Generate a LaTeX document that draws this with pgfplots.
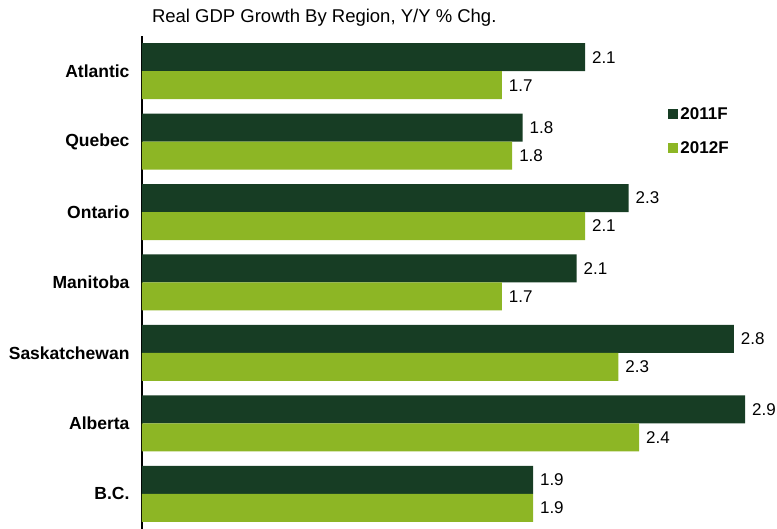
\documentclass[border=0pt]{standalone}
\usepackage{fontspec}
\setmainfont{Liberation Sans}
\usepackage{pgfplots}
\pgfplotsset{compat=1.18}
\definecolor{dkg}{HTML}{173D24}
\definecolor{ltg}{HTML}{8DB625}
\begin{document}
\begin{tikzpicture}
\path[use as bounding box] (-142pt,0pt) rectangle (635pt,529pt);
\begin{axis}[
  at={(0pt,0pt)}, anchor=south west,
  scale only axis, width=635pt, height=493pt,
  xmin=0, xmax=3.053, ymin=-0.5, ymax=6.5,
  axis x line=none, axis y line*=left,
  y axis line style={line width=1.3pt, -},
  ytick={0,1,2,3,4,5,6},
  yticklabels={B.C., Alberta, Saskatchewan, Manitoba, Ontario, Quebec, Atlantic},
  major tick length=0pt,
  yticklabel style={font=\fontsize{17.5}{19}\selectfont\bfseries, xshift=-9pt},
  xbar, bar width=28pt,
  point meta=explicit symbolic,
  nodes near coords,
  nodes near coords style={font=\fontsize{17}{19}\selectfont, anchor=west, xshift=3.5pt},
  legend image code/.code={\fill[#1,draw=none] (0pt,-5pt) rectangle (10pt,5pt);},
  legend style={draw=none, fill=none, at={(0.824,0.807)}, anchor=west,
    font=\fontsize{17}{19}\selectfont\bfseries, row sep=16pt,
    /tikz/every even column/.append style={column sep=0pt}},
  legend cell align=left,
  clip=false,
]
\addplot[fill=dkg, draw=none, bar shift=14pt] coordinates {
 (2.13,6) [2.1] (1.83,5) [1.8] (2.34,4) [2.3] (2.09,3) [2.1] (2.846,2) [2.8] (2.90,1) [2.9] (1.88,0) [1.9]};
\addplot[fill=ltg, draw=none, bar shift=-14pt] coordinates {
 (1.73,6) [1.7] (1.78,5) [1.8] (2.13,4) [2.1] (1.73,3) [1.7] (2.29,2) [2.3] (2.39,1) [2.4] (1.88,0) [1.9]};
\legend{2011F,2012F}
\end{axis}
\node[anchor=west, font=\fontsize{18.5}{20}\selectfont] at (6.5pt,511pt) {Real GDP Growth By Region, Y/Y \% Chg.};
\end{tikzpicture}
\end{document}
